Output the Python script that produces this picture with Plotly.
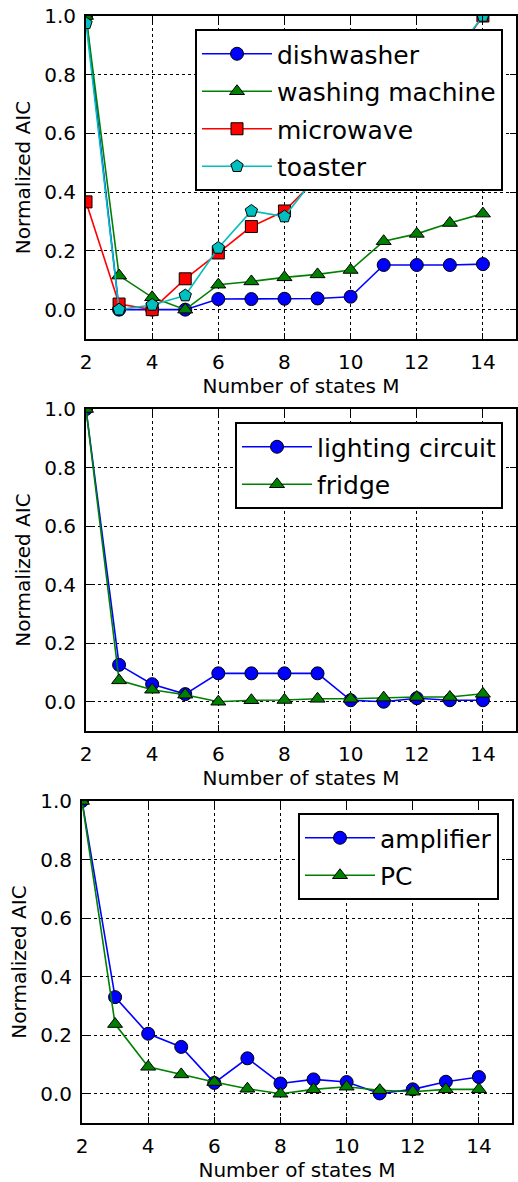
import plotly.graph_objects as go

M = [2, 3, 4, 5, 6, 7, 8, 9, 10, 11, 12, 13, 14]

# Panel 1
dishwasher = [1.0, 0.0, 0.0, 0.0, 0.036, 0.036, 0.037, 0.038, 0.044, 0.152, 0.152, 0.152, 0.155]
washing_machine = [1.0, 0.116, 0.042, 0.0, 0.085, 0.096, 0.11, 0.12, 0.135, 0.233, 0.258, 0.295, 0.327]
microwave = [0.367, 0.019, 0.0, 0.105, 0.193, 0.283, 0.336, 0.45, 0.54, 0.63, 0.72, 0.84, 1.0]
toaster = [0.975, 0.0, 0.016, 0.048, 0.21, 0.336, 0.317, 0.46, 0.55, 0.64, 0.73, 0.85, 1.0]

# Panel 2
lighting_circuit = [1.0, 0.126, 0.06, 0.026, 0.097, 0.097, 0.097, 0.097, 0.005, 0.0, 0.012, 0.005, 0.005]
fridge = [1.0, 0.073, 0.041, 0.024, 0.0, 0.005, 0.006, 0.01, 0.01, 0.014, 0.016, 0.016, 0.027]

# Panel 3
amplifier = [1.0, 0.33, 0.205, 0.16, 0.037, 0.121, 0.035, 0.049, 0.04, 0.001, 0.015, 0.041, 0.057]
pc = [1.0, 0.238, 0.092, 0.066, 0.04, 0.017, 0.0, 0.015, 0.024, 0.012, 0.007, 0.015, 0.015]

x_ticks = [2, 4, 6, 8, 10, 12, 14]
y_ticks = [0.0, 0.2, 0.4, 0.6, 0.8, 1.0]

BLUE, GREEN, RED, CYAN = "#0000ff", "#008000", "#ff0000", "#00bfbf"
FONT = "DejaVu Sans"
W, H = 518, 1182

fig = go.Figure()

def add(name, y, color, symbol, axis_idx, legend, size=12):
    xa = "x" if axis_idx == 1 else f"x{axis_idx}"
    ya = "y" if axis_idx == 1 else f"y{axis_idx}"
    fig.add_trace(go.Scatter(
        x=M, y=y, name=name, mode="lines+markers",
        line=dict(color=color, width=1.6),
        marker=dict(symbol=symbol, size=size, color=color,
                    line=dict(color="black", width=1)),
        xaxis=xa, yaxis=ya, legend=legend, legendgroup=name,
    ))

add("dishwasher", dishwasher, BLUE, "circle", 1, "legend", 13)
add("washing machine", washing_machine, GREEN, "triangle-up", 1, "legend", 13)
add("microwave", microwave, RED, "square", 1, "legend", 12)
add("toaster", toaster, CYAN, "pentagon", 1, "legend", 13)
add("lighting circuit", lighting_circuit, BLUE, "circle", 2, "legend2", 13)
add("fridge", fridge, GREEN, "triangle-up", 2, "legend2", 13)
add("amplifier", amplifier, BLUE, "circle", 3, "legend3", 13)
add("PC", pc, GREEN, "triangle-up", 3, "legend3", 13)

def ydom(top, bottom):
    return [1 - bottom / H, 1 - top / H]

panels = [
    dict(xd=[86 / W, 516 / W], yd=ydom(16, 339)),
    dict(xd=[86 / W, 516 / W], yd=ydom(409, 731)),
    dict(xd=[82 / W, 512 / W], yd=ydom(801, 1123)),
]

axis_common = dict(
    showline=True, linecolor="black", linewidth=2, mirror="allticks",
    ticks="inside", ticklen=6, tickwidth=1, tickcolor="black",
    showgrid=True, gridcolor="black", gridwidth=1, griddash="dot",
    zeroline=False, automargin=False,
    tickfont=dict(family=FONT, size=20, color="black"),
)

layout = dict(
    width=W, height=H, margin=dict(l=0, r=0, t=0, b=0), autosize=False,
    paper_bgcolor="white", plot_bgcolor="white",
    font=dict(family=FONT, color="black"),
)

for i, p in enumerate(panels, start=1):
    xk = "xaxis" if i == 1 else f"xaxis{i}"
    yk = "yaxis" if i == 1 else f"yaxis{i}"
    ya = "y" if i == 1 else f"y{i}"
    xa = "x" if i == 1 else f"x{i}"
    layout[xk] = dict(axis_common, domain=p["xd"], anchor=ya, range=[2, 15],
                      tickvals=x_ticks, ticklabelstandoff=4,
                      title=dict(text="Number of states M", font=dict(family=FONT, size=20),
                                 standoff=6))
    layout[yk] = dict(axis_common, domain=p["yd"], anchor=xa, range=[-0.1, 1.0],
                      tickvals=y_ticks, tickformat=".1f", ticklabelstandoff=4,
                      title=dict(text="Normalized AIC", font=dict(family=FONT, size=20),
                                 standoff=8))

leg_common = dict(
    bgcolor="white", bordercolor="black", borderwidth=2,
    font=dict(family=FONT, size=25, color="black"),
    xanchor="right", yanchor="top", tracegroupgap=2, itemwidth=70,
)
layout["legend"] = dict(leg_common, x=503 / W, y=1 - 29 / H)
layout["legend2"] = dict(leg_common, x=503 / W, y=1 - 422 / H)
layout["legend3"] = dict(leg_common, x=499 / W, y=1 - 813 / H)

fig.update_layout(**layout)
fig.write_html(
    "out.html",
    config={"displayModeBar": False},
    post_script="document.body.style.margin='0';document.body.style.padding='0';",
)
